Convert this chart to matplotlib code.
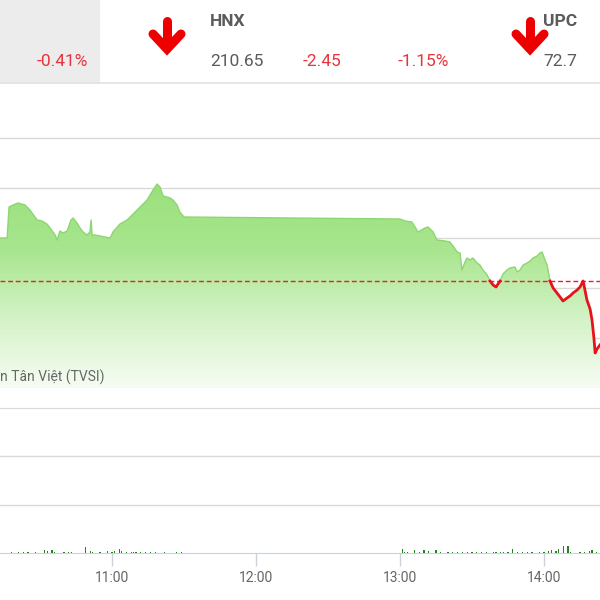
import numpy as np
import matplotlib
matplotlib.use("Agg")
import matplotlib.pyplot as plt
from matplotlib.ticker import FixedLocator, FuncFormatter
from matplotlib.colors import LinearSegmentedColormap

plt.rcParams['font.family'] = ['Roboto', 'DejaVu Sans']

# ---------------- data ----------------
# time in minutes since midnight, index value
price_time = [613.3, 616.3, 617.1, 618.8, 620.8, 623.8, 625.8, 628.8, 630.8, 632.9,
              634.2, 636.3, 637.1, 638.3, 639.6, 641.3, 642.9, 643.8, 645.4, 646.7,
              647.9, 649.6, 650.8, 651.3, 651.7, 652.9, 655.0, 657.1, 659.2, 660.4,
              663.3, 666.3, 668.8, 671.7, 674.6, 677.1, 678.8, 680.0, 681.3, 682.9,
              684.2, 685.4, 687.1, 688.3, 690.0, 780.0, 782.1, 785.0, 787.5, 790.4,
              791.7, 793.8, 795.4, 798.8, 800.8, 802.1, 803.8, 805.0, 805.8, 807.1,
              807.9, 809.2, 810.4, 812.1, 813.3, 814.6, 816.3, 817.5, 818.8, 820.0,
              821.7, 822.9, 824.6, 825.8, 827.9, 828.8, 830.0, 831.3, 832.9, 834.2,
              835.4, 837.1, 838.3, 839.2, 840.4, 841.3, 842.5, 843.8, 845.4, 846.7,
              847.9, 849.6, 850.8, 852.1, 853.8, 855.0, 856.3, 857.9, 859.2, 860.0,
              860.8, 861.3, 862.1, 863.3]
price_value = [985.0, 985.0, 988.1, 988.3, 988.5, 988.3, 987.8, 986.8, 986.7, 986.4,
               986.0, 985.3, 984.8, 985.7, 985.5, 985.7, 986.8, 987.0, 986.5, 986.0,
               985.6, 985.3, 985.6, 986.8, 985.3, 985.3, 985.2, 985.1, 985.0, 985.6,
               986.4, 986.8, 987.4, 988.1, 988.8, 989.8, 990.4, 990.1, 989.2, 989.1,
               989.0, 988.8, 988.3, 987.6, 987.1, 986.9, 986.7, 986.6, 985.6, 986.0,
               986.1, 985.6, 984.8, 984.7, 984.6, 984.2, 983.6, 983.5, 981.8, 982.6,
               983.0, 982.8, 983.0, 982.5, 982.3, 981.8, 981.3, 980.7, 980.3, 980.1,
               980.7, 981.4, 981.8, 982.0, 982.1, 981.6, 981.8, 982.3, 982.5, 982.7,
               983.0, 983.2, 983.5, 983.6, 982.8, 982.3, 980.7, 980.0, 979.5, 979.1,
               978.7, 979.0, 979.2, 979.5, 979.8, 980.1, 980.7, 978.8, 977.9, 976.8,
               975.0, 973.5, 973.9, 974.3]
reference = 980.7

vol_time = ["10:18", "10:21", "10:23", "10:25", "10:28", "10:32", "10:33", "10:35", "10:36", "10:40",
            "10:42", "10:43", "10:49", "10:51", "10:52", "10:55", "10:58", "11:00", "11:01", "11:03",
            "11:04", "11:06", "11:08", "11:09", "11:10", "11:12", "11:14", "11:16", "11:18", "11:22",
            "11:27", "11:29",
            "13:01", "13:02", "13:03", "13:06", "13:08", "13:10", "13:12", "13:15", "13:17", "13:20",
            "13:22", "13:24", "13:26", "13:28", "13:30", "13:32", "13:34", "13:36", "13:39", "13:40",
            "13:42", "13:43", "13:45", "13:47", "13:49", "13:51", "13:53", "13:55", "13:58", "14:00",
            "14:02", "14:03", "14:05", "14:06", "14:08", "14:10", "14:11", "14:15", "14:17", "14:19",
            "14:20", "14:22"]
vol_value = [2, 2, 2, 2, 2, 6, 4, 6, 2, 2,
             2, 2, 12, 4, 2, 2, 4, 2, 4, 8,
             4, 2, 2, 2, 2, 2, 2, 2, 2, 2,
             2, 2,
             8, 2, 2, 6, 2, 6, 4, 6, 2, 2,
             2, 2, 2, 2, 2, 2, 2, 2, 2, 2,
             2, 2, 2, 8, 2, 2, 2, 2, 2, 2,
             4, 6, 4, 8, 14, 14, 2, 2, 2, 4,
             6, 2]

tick_labels = ["11:00", "12:00", "13:00", "14:00"]

header_name = ["HNX", "UPC"]
header_value = ["210.65", "72.7"]
header_change = ["-2.45"]
header_pct = ["-0.41%", "-1.15%"]
source_text = "n Tân Việt (TVSI)"

# ---------------- helpers ----------------
def hm(s):
    h, m = s.split(":")
    return int(h) * 60 + int(m)

t = np.array(price_time)
v = np.array(price_value)
vt = np.array([hm(s) for s in vol_time])
vv = np.array(vol_value)
tick_pos = [hm(s) for s in tick_labels]

XMIN, XMAX = 613.33, 863.33
W = H = 600

fig = plt.figure(figsize=(6, 6), dpi=100)
fig.patch.set_facecolor("white")

def fy(py):
    return (H - py) / H

# ---------------- price panel ----------------
ax = fig.add_axes([0, fy(388), 1, (388 - 88) / H])
ax.set_xlim(XMIN, XMAX)
ax.set_ylim(970, 1000)
for s in ax.spines.values():
    s.set_visible(False)
ax.set_xticks([])
ax.set_yticks([])
for g in [970, 975, 980, 985, 990, 995]:
    ax.axhline(g, color="#d9d9d9", lw=1, zorder=1)

# gradient fill under the line
poly = ax.fill_between(t, v, 970, color="none", lw=0, zorder=2)
cmap = LinearSegmentedColormap.from_list("g", ["#f6fcf3", "#d5f3c8", "#a9e68f", "#9ae07c"])
grad = np.linspace(0, 1, 256).reshape(-1, 1)
im = ax.imshow(grad, extent=[XMIN, XMAX, 970, 990.5], origin="lower", aspect="auto",
               cmap=cmap, zorder=2)
im.set_clip_path(poly.get_paths()[0], transform=ax.transData)

# reference line
ax.axhline(reference, color="#f01c1c", lw=1.0, ls=(0, (3.5, 2)), zorder=4)

# line: green above reference, red below
ax.plot(t, v, color="#8ed672", lw=1.0, zorder=3)
rt, rv = [], []
for i in range(len(t) - 1):
    t0, t1, v0, v1 = t[i], t[i + 1], v[i], v[i + 1]
    rt.append(t0); rv.append(v0 if v0 <= reference else np.nan)
    if (v0 - reference) * (v1 - reference) < 0:
        tc = t0 + (reference - v0) * (t1 - t0) / (v1 - v0)
        rt.append(tc); rv.append(reference)
rt.append(t[-1]); rv.append(v[-1] if v[-1] <= reference else np.nan)
ax.plot(np.array(rt), np.array(rv), color="#e8121b", lw=2.0, zorder=5, solid_joinstyle="round")

ax.text(XMIN + 0.2, 970 + (388 - 377) / 10, source_text, fontsize=10,
        color="#666666", ha="left", va="center", zorder=6)

# ---------------- volume panel ----------------
axv = fig.add_axes([0, fy(553), 1, (553 - 408) / H])
axv.set_xlim(XMIN, XMAX)
axv.set_ylim(0, 300)
for s in ["left", "right"]:
    axv.spines[s].set_visible(False)
axv.spines["top"].set_color("#d9d9d9")
axv.spines["bottom"].set_color("#c8d2dc")
for g in [100, 200]:
    axv.axhline(g, color="#d9d9d9", lw=1, zorder=1)
axv.bar(vt, vv, width=0.45, color="#2a7f1e", zorder=3)
axv.set_yticks([])
axv.xaxis.set_major_locator(FixedLocator(tick_pos))
axv.xaxis.set_major_formatter(FuncFormatter(lambda x, p: "%d:%02d" % (int(x) // 60, int(x) % 60)))
axv.tick_params(axis="x", length=9, width=1, color="#c8d2dc", labelcolor="#666666",
                labelsize=10, pad=4)

# ---------------- header ----------------
hd = fig.add_axes([0, fy(84), 1, 84 / H])
hd.set_xlim(0, W)
hd.set_ylim(84, 0)
hd.axis("off")
hd.add_patch(plt.Rectangle((0, 0), 99, 83, color="#ececec", zorder=0))
hd.plot([0, W], [83, 83], color="#e3e3e3", lw=1.2)

red = "#e8333c"
gray = "#5b5b5b"
hd.text(88, 61, header_pct[0], color=red, fontsize=12.5, ha="right", va="center")
hd.text(210, 22, header_name[0], color=gray, fontsize=12.5, fontweight="bold", ha="left", va="center")
hd.text(210, 61, header_value[0], color=gray, fontsize=12.5, ha="left", va="center")
hd.text(303, 61, header_change[0], color=red, fontsize=12.5, ha="left", va="center")
hd.text(398, 61, header_pct[1], color=red, fontsize=12.5, ha="left", va="center")
hd.text(543, 22, header_name[1], color=gray, fontsize=12.5, fontweight="bold", ha="left", va="center")
hd.text(543, 61, header_value[1], color=gray, fontsize=12.5, ha="left", va="center")

for ax_c in [167, 530]:
    hd.plot([ax_c, ax_c], [21, 47], color="#ee0000", lw=6.5, solid_capstyle="round")
    hd.plot([ax_c - 14, ax_c, ax_c + 14], [34, 49, 34], color="#ee0000", lw=6.5,
            solid_capstyle="round", solid_joinstyle="miter")

fig.savefig("out.png", dpi=100)
